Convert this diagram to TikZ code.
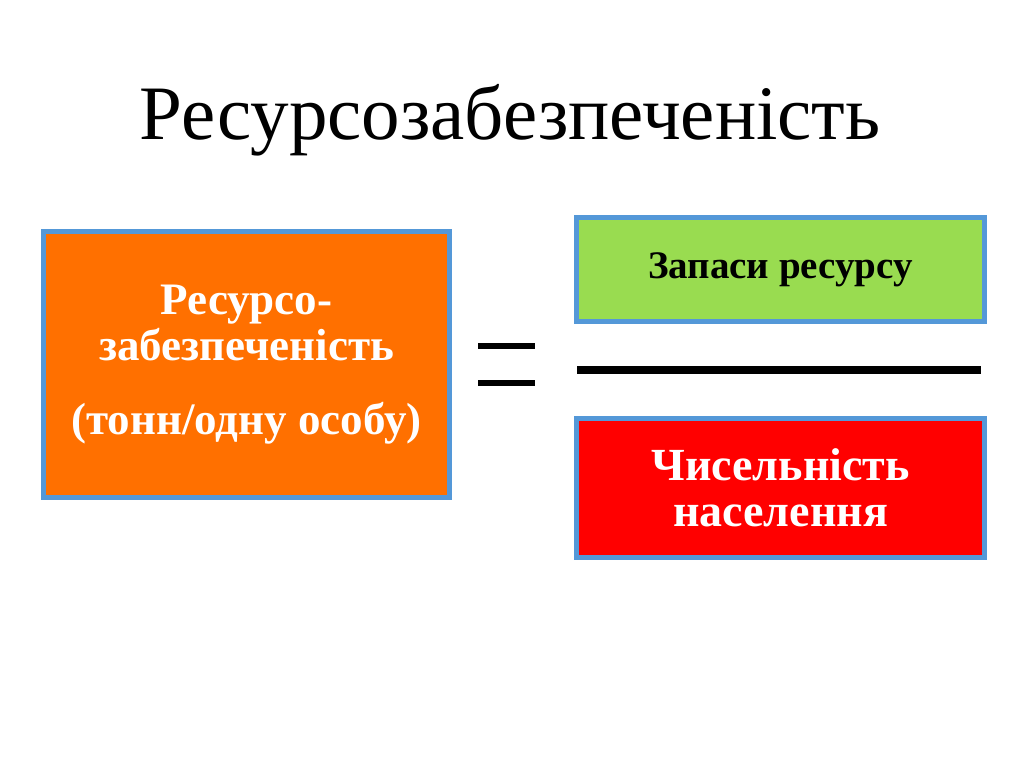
\documentclass[tikz,border=0pt]{standalone}
\usepackage{fontspec}
\setmainfont{Liberation Serif}
\begin{document}
\begin{tikzpicture}[x=1pt,y=-1pt,
  box/.style={draw=cyan!60!blue!70, line width=5pt, inner sep=0pt, anchor=north west, align=center, font=\bfseries},
  bar/.style={line width=6pt}]
\useasboundingbox (0,0) rectangle (1024,767);
\node (title) at (510,120) {\fontsize{77}{80}\selectfont Ресурсозабезпеченість};
\node[box, fill={rgb,255:red,255;green,112;blue,0}, minimum width=406, minimum height=266, text=white,
  font=\bfseries\fontsize{45}{46}\selectfont] (res) at (41,229)
  {Ресурсо-\\забезпеченість\\[28pt](тонн/одну особу)};
\node[box, fill={rgb,255:red,153;green,220;blue,80}, minimum width=408, minimum height=104,
  font=\bfseries\fontsize{39}{40}\selectfont] (zap) at (574,215)
  {Запаси ресурсу};
\node[box, fill={rgb,255:red,255;green,0;blue,0}, minimum width=408, minimum height=139, text=white,
  font=\bfseries\fontsize{46}{46}\selectfont] (chys) at (574,416)
  {Чисельність\\населення};
\coordinate (e1a) at (478,346); \coordinate (e1b) at (535,346);
\coordinate (e2a) at (478,383); \coordinate (e2b) at (535,383);
\draw[bar] (e1a) -- (e1b);
\draw[bar] (e2a) -- (e2b);
\coordinate (fa) at (577,370); \coordinate (fb) at (981,370);
\draw[line width=8pt] (fa) -- (fb);
\end{tikzpicture}
\end{document}
